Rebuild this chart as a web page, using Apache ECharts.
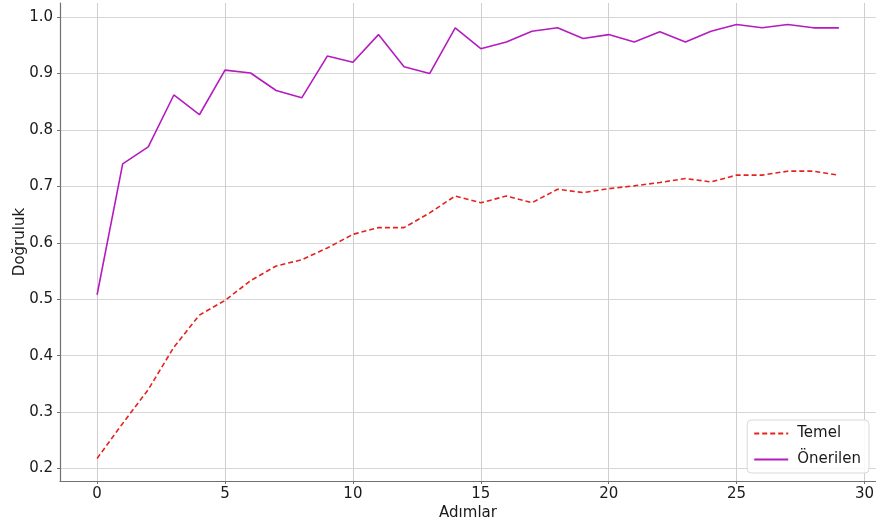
<!DOCTYPE html>
<html>
<head>
<meta charset="utf-8">
<script src="https://cdn.jsdelivr.net/npm/echarts@6/dist/echarts.min.js"></script>
<style>
  html, body { margin: 0; padding: 0; background: #ffffff; }
  #chart { width: 876px; height: 524px; }
</style>
</head>
<body>
<div id="chart"></div>
<script>
// Training steps (x axis)
const steps = [0,1,2,3,4,5,6,7,8,9,10,11,12,13,14,15,16,17,18,19,20,21,22,23,24,25,26,27,28,29];

// Accuracy per step, baseline model
const temel = [0.218,0.280,0.340,0.415,0.472,0.498,0.533,0.559,0.570,0.591,0.615,0.627,0.627,0.653,0.683,0.671,0.683,0.671,0.695,0.689,0.696,0.701,0.707,0.714,0.708,0.720,0.720,0.727,0.727,0.720];

// Accuracy per step, proposed model
const onerilen = [0.508,0.740,0.770,0.862,0.827,0.906,0.901,0.870,0.857,0.931,0.920,0.969,0.912,0.900,0.981,0.944,0.956,0.975,0.981,0.962,0.969,0.956,0.974,0.956,0.975,0.987,0.981,0.987,0.981,0.981];

const seriesNames = ['Temel', 'Önerilen'];
const xTitle = 'Adımlar';
const yTitle = 'Doğruluk';

const FONT = 'DejaVu Sans';
const pairs = (ys) => steps.map((s, i) => [s, ys[i]]);

const chart = echarts.init(document.getElementById('chart'), null, { renderer: 'canvas' });
chart.setOption({
  animation: false,
  backgroundColor: '#ffffff',
  textStyle: { fontFamily: FONT },
  grid: { left: 60, right: 0, top: 3, bottom: 43, containLabel: false, outerBoundsMode: 'none' },
  legend: {
    orient: 'vertical',
    right: 7,
    bottom: 51,
    data: seriesNames,
    itemWidth: 34,
    itemHeight: 12,
    itemGap: 11,
    padding: [6, 8, 6, 6],
    backgroundColor: 'rgba(255,255,255,0.85)',
    borderColor: '#d9d9d9',
    borderWidth: 1,
    borderRadius: 4,
    itemStyle: { opacity: 0 },
    textStyle: { fontFamily: FONT, fontSize: 15, color: '#1a1a1a', padding: [0, 0, 0, 4] }
  },
  xAxis: {
    type: 'value',
    min: -1.45,
    max: 30.45,
    minInterval: 5,
    maxInterval: 5,
    name: xTitle,
    nameLocation: 'middle',
    nameGap: 25,
    nameMoveOverlap: false,
    nameTextStyle: { fontFamily: FONT, fontSize: 15, color: '#1a1a1a' },
    axisLine: { show: true, onZero: false, lineStyle: { color: '#707070', width: 1.2 } },
    axisTick: { show: true, length: 3, lineStyle: { color: '#707070' } },
    axisLabel: {
      showMinLabel: false, showMaxLabel: false,
      margin: 6, fontFamily: FONT, fontSize: 15, color: '#1a1a1a',
      formatter: (v) => String(Math.round(v))
    },
    splitLine: { show: true, showMinLine: false, showMaxLine: false, lineStyle: { color: '#cfcfcf', width: 1 } }
  },
  yAxis: {
    type: 'value',
    min: 0.178,
    max: 1.025,
    minInterval: 0.1,
    maxInterval: 0.1,
    splitNumber: 8,
    name: yTitle,
    nameLocation: 'middle',
    nameRotate: 90,
    nameGap: 32,
    nameMoveOverlap: false,
    nameTextStyle: { fontFamily: FONT, fontSize: 15, color: '#1a1a1a' },
    axisLine: { show: true, onZero: false, lineStyle: { color: '#707070', width: 1.2 } },
    axisTick: { show: true, length: 3, lineStyle: { color: '#707070' } },
    axisLabel: {
      showMinLabel: false, showMaxLabel: false,
      margin: 7, fontFamily: FONT, fontSize: 15, color: '#1a1a1a',
      formatter: (v) => v.toFixed(1)
    },
    splitLine: { show: true, showMinLine: false, showMaxLine: false, lineStyle: { color: '#d6d6d6', width: 1 } }
  },
  series: [
    {
      name: seriesNames[0],
      type: 'line',
      data: pairs(temel),
      showSymbol: false,
      symbol: 'none',
      color: '#e3231f',
      lineStyle: { color: '#e3231f', width: 1.6, type: [5, 3] }
    },
    {
      name: seriesNames[1],
      type: 'line',
      data: pairs(onerilen),
      showSymbol: false,
      symbol: 'none',
      color: '#b41cbf',
      lineStyle: { color: '#b41cbf', width: 1.6 }
    }
  ]
});
</script>
</body>
</html>
